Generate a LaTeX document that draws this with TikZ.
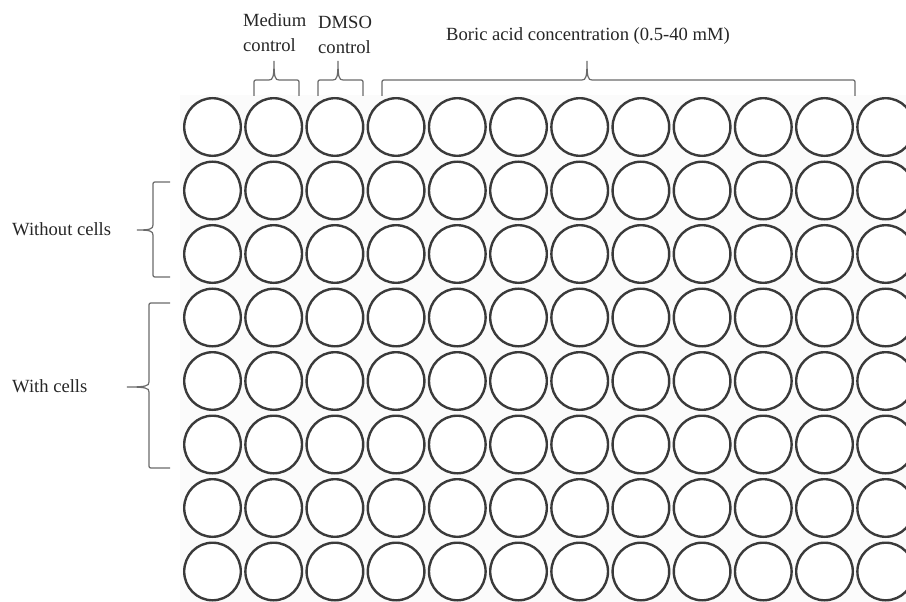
\documentclass[tikz,border=0pt]{standalone}
\usepackage{fontspec}
\setmainfont{Liberation Serif}
\usetikzlibrary{shapes.geometric}
\definecolor{wellc}{HTML}{3A3A3A}
\definecolor{bracec}{HTML}{6A6A6A}
\tikzset{
  well/.style={ellipse, draw=wellc, fill=white, line width=2.4pt, minimum width=56.6pt, minimum height=57.6pt, inner sep=0pt},
  bracestyle/.style={draw=bracec, line width=1.2pt},
  lbl/.style={inner sep=0pt, font=\fontsize{18.6}{25}\selectfont, text=black!85}
}
\newcommand\colbrace[3]{%
  \draw[bracestyle] (#1,96) -- (#1,84) .. controls (#1,80) .. ({#1+4},80) -- ({#3-5},80)
    .. controls ({#3-1},80) and (#3,77) .. (#3,61)
    .. controls (#3,77) and ({#3+1},80) .. ({#3+5},80) -- ({#2-4},80)
    .. controls (#2,80) .. (#2,84) -- (#2,96);}
\newcommand\rowbrace[6]{% xr, xv, xt, top, mid, bot
  \draw[bracestyle] (#1,#4) -- ({#2+4},#4) .. controls (#2,#4) .. (#2,{#4+4}) -- (#2,{#5-5})
    .. controls (#2,{#5-1}) and ({#2-3},#5) .. (#3,#5)
    .. controls ({#2-3},#5) and (#2,{#5+1}) .. (#2,{#5+5}) -- (#2,{#6-4})
    .. controls (#2,#6) .. ({#2+4},#6) -- (#1,#6);}
\begin{document}
\begin{tikzpicture}[x=1pt,y=-1pt]
\useasboundingbox (0,0) rectangle (906,602);
\fill[black!1.5] (180,95) rectangle (906,602);
\foreach \c in {0,...,11}{
  \foreach \r in {0,...,7}{
    \node[well] (w\r-\c) at ({212.5+61.2*\c},{127+63.5*\r}) {};
  }
}
% top labels
\node[lbl, anchor=base west] (med1) at (243,27) {Medium};
\node[lbl, anchor=base west] (med2) at (243,52) {control};
\node[lbl, anchor=base west] (dmso1) at (318,29) {DMSO};
\node[lbl, anchor=base west] (dmso2) at (318,54) {control};
\node[lbl, anchor=base] (boric) at (588,41) {Boric acid concentration (0.5-40 mM)};
% left labels
\node[lbl, anchor=base west] (without) at (12,235) {Without cells};
\node[lbl, anchor=base west] (with) at (12,392) {With cells};
% braces
\colbrace{254}{299}{274}
\colbrace{318}{363}{338}
\colbrace{382}{855}{587}
\rowbrace{170}{153}{137}{182}{230}{277}
\rowbrace{170}{149}{127}{303}{387}{468}
\end{tikzpicture}
\end{document}
